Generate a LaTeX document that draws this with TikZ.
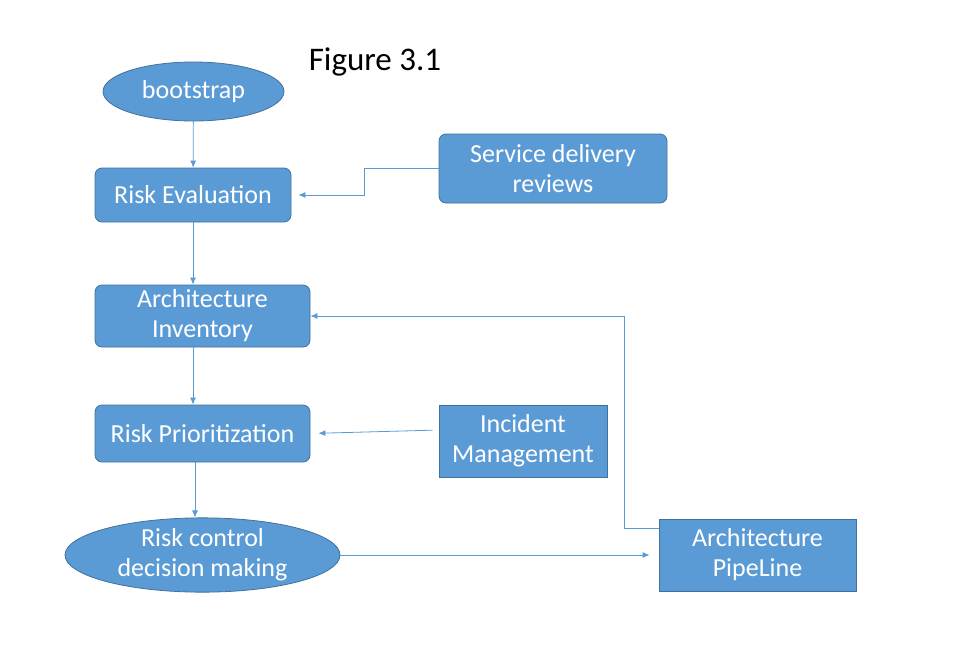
\documentclass[tikz,border=0pt]{standalone}
\usepackage{fontspec}
\setmainfont{Carlito}
\usetikzlibrary{shapes.geometric, arrows.meta}

\definecolor{officeblue}{HTML}{5B9BD5}
\definecolor{officeedge}{HTML}{41719C}

\begin{document}
\begin{tikzpicture}[
    x=1pt, y=-1pt,
    every node/.style={font=\fontsize{26}{30}\selectfont},
    block/.style={draw=officeedge, fill=officeblue, text=white, line width=0.8pt, align=center, inner sep=0pt},
    roundbox/.style={block, rectangle, rounded corners=7pt},
    plainbox/.style={block, rectangle},
    oval/.style={block, ellipse},
    flow/.style={-{Latex[length=7pt, width=6pt]}, officeblue, line width=0.8pt}
]

    % --- PAGE SIZE ---
    \useasboundingbox (0,0) rectangle (974,654);

    % --- TITLE ---
    \node (title) at (375,62) {\fontsize{33}{38}\selectfont Figure 3.1};

    % --- MAIN COLUMN ---
    \node[oval, minimum width=181pt, minimum height=59pt] (boot) at (193.5,91.5) {bootstrap};
    \node[roundbox, minimum width=196pt, minimum height=54pt] (re) at (193,195) {Risk Evaluation};
    \node[roundbox, minimum width=215pt, minimum height=62pt] (ai) at (202.5,316) {Architecture\\Inventory};
    \node[roundbox, minimum width=215pt, minimum height=57pt] (rp) at (202.5,433.5) {Risk Prioritization};
    \node[oval, minimum width=275pt, minimum height=72pt] (rc) at (202.5,555) {Risk control\\decision making};

    % --- SIDE INPUTS ---
    \node[roundbox, minimum width=228pt, minimum height=69pt] (sdr) at (553,168.5) {Service delivery\\reviews};
    \node[plainbox, minimum width=168pt, minimum height=72pt] (im) at (523,441) {Incident\\Management};
    \node[plainbox, minimum width=197pt, minimum height=72pt] (ap) at (757.5,555) {Architecture\\PipeLine};

    % --- CONNECTIONS ---
    % the main column runs down at the x of Risk Evaluation
    \draw[flow] (boot) -- (re);
    \draw[flow] (re.south) -- (re.south |- ai.north);
    \draw[flow] (re.south |- ai.south) -- (re.south |- rp.north);
    \draw[flow] ([xshift=2pt]re.south |- rp.south) -- ([xshift=2pt]re.south |- rc.north);
    \draw[flow, shorten >=7pt] (sdr.west) -- ++(-74,0) |- (re.east);
    \draw[flow, shorten <=6pt, shorten >=8pt] ([yshift=11pt]im.west) -- (rp.east);
    \draw[flow, shorten >=9pt] (rc.east) -- (ap.west);
    \draw[flow] ([yshift=-10pt]ap.north west) -- ++(-34,0) |- (ai.east);

\end{tikzpicture}
\end{document}
